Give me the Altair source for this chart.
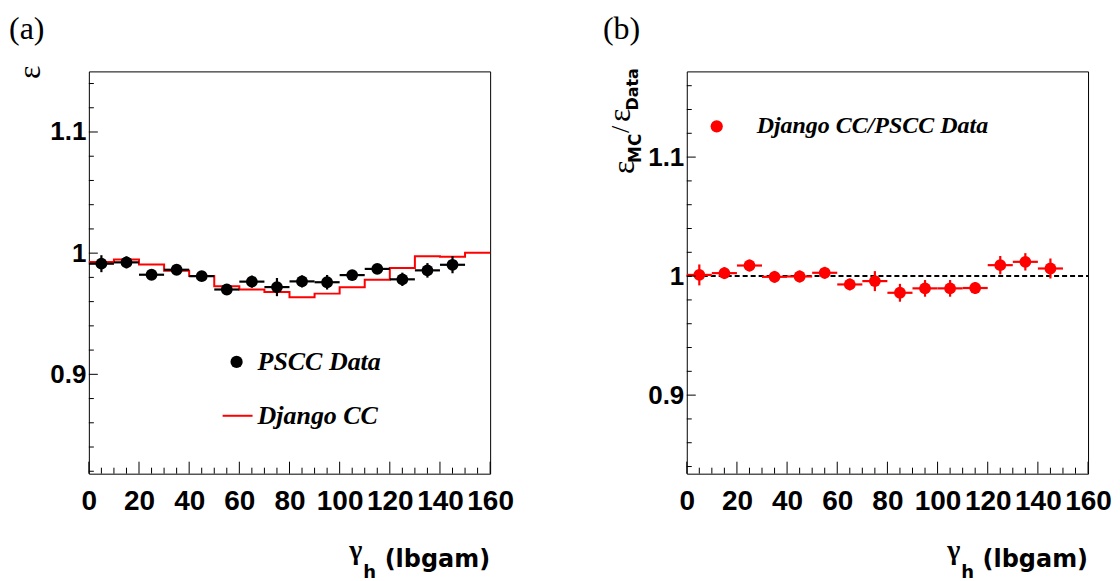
import altair as alt
import pandas as pd

# ---------------- data ----------------
bin_centers = [5, 15, 25, 35, 45, 55, 65, 75, 85, 95, 105, 115, 125, 135, 145]
pscc_data = [0.9913, 0.9924, 0.9822, 0.9863, 0.9810, 0.9700, 0.9765, 0.9720,
             0.9767, 0.9760, 0.9819, 0.9870, 0.9784, 0.9858, 0.9904]
pscc_err = [0.007, 0.005, 0.004, 0.004, 0.004, 0.004, 0.005, 0.0075,
            0.005, 0.006, 0.004, 0.004, 0.0055, 0.006, 0.007]

django_edges = [0, 10, 20, 30, 40, 50, 60, 70, 80, 90, 100, 110, 120, 130, 140, 150, 160]
django_cc = [0.9926, 0.9948, 0.9907, 0.9855, 0.9811, 0.9726, 0.9700, 0.9680,
             0.9636, 0.9666, 0.9718, 0.9781, 0.9877, 0.9975, 0.9970, 1.0003]

ratio = [1.0010, 1.0025, 1.0089, 0.9994, 0.9997, 1.0028, 0.9930, 0.9958,
         0.9860, 0.9897, 0.9897, 0.9900, 1.0092, 1.0120, 1.0064]
ratio_err = [0.0088, 0.005, 0.005, 0.005, 0.005, 0.005, 0.005, 0.0084,
             0.0075, 0.007, 0.007, 0.005, 0.0077, 0.0073, 0.0084]

bin_half_width = 5

x_major = [0, 20, 40, 60, 80, 100, 120, 140, 160]
x_minor = [5, 10, 15, 25, 30, 35, 45, 50, 55, 65, 70, 75, 85, 90, 95,
           105, 110, 115, 125, 130, 135, 145, 150, 155]
y_major = [0.9, 1.0, 1.1]
y_minor_left = [0.82, 0.84, 0.86, 0.88, 0.92, 0.94, 0.96, 0.98,
                1.02, 1.04, 1.06, 1.08, 1.12, 1.14]
y_minor_right = [0.84, 0.86, 0.88, 0.92, 0.94, 0.96, 0.98,
                 1.02, 1.04, 1.06, 1.08, 1.12, 1.14, 1.16]

x_domain = [0, 160]
y_domain_left = [0.818, 1.15]
y_domain_right = [0.834, 1.172]

W, H = 402, 403
RED = "#ff0000"
SANS = "Liberation Sans"
WIDE = "DejaVu Sans"
SERIF = "Liberation Serif"

# ---------------- helpers ----------------
xs = alt.Scale(domain=x_domain, nice=False, zero=False)
x_axis = alt.Axis(values=x_major, format="d", title=None, labelFlush=False,
                  labelOverlap=False, labelFontSize=28, labelPadding=14)


def X(field):
    return alt.X(field, type="quantitative", scale=xs, axis=x_axis)


def make_y(domain):
    ys = alt.Scale(domain=domain, nice=False, zero=False)
    ax = alt.Axis(values=y_major, title=None, labelFontSize=26, labelPadding=3,
                  labelExpr="abs(datum.value-1)<1e-6 ? '1' : format(datum.value, '.1f')")

    def Y(field):
        return alt.Y(field, type="quantitative", scale=ys, axis=ax)
    return Y


def text(txt, x, y, size, font=SANS, weight="normal", style="normal",
         align="left", baseline="middle", angle=0, color="black"):
    kw = dict(fontSize=size, font=font, fontWeight=weight, fontStyle=style,
              align=align, baseline=baseline, color=color)
    if angle:
        kw["angle"] = angle
    return alt.Chart(pd.DataFrame({"t": [txt]})).mark_text(**kw).encode(
        x=alt.value(x), y=alt.value(y), text="t:N")


def ticks():
    xmaj = alt.Chart(pd.DataFrame({"v": x_major})).mark_rule(color="black", strokeWidth=1).encode(
        x=X("v"), y=alt.value(H), y2=alt.value(H - 12))
    xmin = alt.Chart(pd.DataFrame({"v": x_minor})).mark_rule(color="black", strokeWidth=1).encode(
        x=X("v"), y=alt.value(H), y2=alt.value(H - 6))
    return xmaj, xmin


def yticks(Y, minors):
    ymaj = alt.Chart(pd.DataFrame({"v": y_major})).mark_rule(color="black", strokeWidth=1).encode(
        y=Y("v"), x=alt.value(0), x2=alt.value(9))
    ymin = alt.Chart(pd.DataFrame({"v": minors})).mark_rule(color="black", strokeWidth=1).encode(
        y=Y("v"), x=alt.value(0), x2=alt.value(5))
    return ymaj, ymin


def xtitle():
    return [
        text("γ", 274, 488, 28, font=SERIF, weight="bold", align="right", baseline="alphabetic"),
        text("h", 275, 508, 18, font=WIDE, weight="bold", align="left", baseline="alphabetic"),
        text("(lbgam)", W, 496, 24, font=WIDE, weight="bold", align="right", baseline="alphabetic"),
    ]


# ---------------- left panel ----------------
YL = make_y(y_domain_left)
df_pts = pd.DataFrame({"x": bin_centers, "y": pscc_data, "e": pscc_err})
df_pts["lo"] = df_pts["y"] - df_pts["e"]
df_pts["hi"] = df_pts["y"] + df_pts["e"]
df_pts["xl"] = df_pts["x"] - bin_half_width
df_pts["xh"] = df_pts["x"] + bin_half_width

df_hist = pd.DataFrame({"x": django_edges, "y": django_cc + [django_cc[-1]]})

hist = alt.Chart(df_hist).mark_line(interpolate="step-after", color=RED, strokeWidth=2).encode(
    x=X("x"), y=YL("y"))
herr = alt.Chart(df_pts).mark_rule(color="black", strokeWidth=2.2).encode(
    x=X("xl"), x2="xh", y=YL("y"))
verr = alt.Chart(df_pts).mark_rule(color="black", strokeWidth=2.2).encode(
    x=X("x"), y=YL("lo"), y2="hi")
pts = alt.Chart(df_pts).mark_circle(color="black", opacity=1, size=140).encode(
    x=X("x"), y=YL("y"))

xmaj_l, xmin_l = ticks()
ymaj_l, ymin_l = yticks(YL, y_minor_left)

anchor_l = alt.Chart(pd.DataFrame({"a": [0]})).mark_point(opacity=0, size=1).encode(
    x=alt.value(-80), y=alt.value(-62))

leg_l_pt = alt.Chart(pd.DataFrame({"a": [0]})).mark_circle(color="black", opacity=1, size=150).encode(
    x=alt.value(148), y=alt.value(291))
leg_l_line = alt.Chart(pd.DataFrame({"a": [0]})).mark_rule(color=RED, strokeWidth=2).encode(
    x=alt.value(134), x2=alt.value(164), y=alt.value(345))

left = alt.layer(
    hist, herr, verr, pts, xmaj_l, xmin_l, ymaj_l, ymin_l, anchor_l,
    leg_l_pt, leg_l_line,
    text("PSCC Data", 169, 291, 26, font=SERIF, weight="bold", style="italic"),
    text("Django CC", 169, 345, 26, font=SERIF, weight="bold", style="italic"),
    text("(a)", -80, -42, 32, font=SERIF),
    text("ε", -59, 1, 32, font=SERIF, angle=270, align="center"),
    *xtitle(),
).properties(width=W, height=H)

# ---------------- right panel ----------------
YR = make_y(y_domain_right)
df_r = pd.DataFrame({"x": bin_centers, "y": ratio, "e": ratio_err})
df_r["lo"] = df_r["y"] - df_r["e"]
df_r["hi"] = df_r["y"] + df_r["e"]
df_r["xl"] = df_r["x"] - bin_half_width
df_r["xh"] = df_r["x"] + bin_half_width

ref_line = alt.Chart(pd.DataFrame({"x": [x_domain[0]], "x2": [x_domain[1]], "y": [1.0]})).mark_rule(
    color="black", strokeWidth=2, strokeDash=[5, 3]).encode(x=X("x"), x2="x2", y=YR("y"))
herr_r = alt.Chart(df_r).mark_rule(color=RED, strokeWidth=2.2).encode(
    x=X("xl"), x2="xh", y=YR("y"))
verr_r = alt.Chart(df_r).mark_rule(color=RED, strokeWidth=2.2).encode(
    x=X("x"), y=YR("lo"), y2="hi")
pts_r = alt.Chart(df_r).mark_circle(color=RED, opacity=1, size=140).encode(
    x=X("x"), y=YR("y"))

xmaj_r, xmin_r = ticks()
ymaj_r, ymin_r = yticks(YR, y_minor_right)

leg_r_pt = alt.Chart(pd.DataFrame({"a": [0]})).mark_circle(color=RED, opacity=1, size=150).encode(
    x=alt.value(30), y=alt.value(55))

right = alt.layer(
    ref_line, herr_r, verr_r, pts_r, xmaj_r, xmin_r, ymaj_r, ymin_r,
    leg_r_pt,
    text("Django CC/PSCC Data", 70, 55, 24, font=SERIF, weight="bold", style="italic"),
    text("(b)", -84, -42, 32, font=SERIF),
    text("ε", -63, 96, 32, font=SERIF, angle=270, align="center"),
    text("MC", -51, 77, 17, font=WIDE, weight="bold", angle=270, align="center"),
    text("/", -66, 58, 26, font=SERIF, angle=270, align="center"),
    text("ε", -67, 44, 32, font=SERIF, angle=270, align="center"),
    text("Data", -54, 18, 16, font=WIDE, weight="bold", angle=270, align="center"),
    *xtitle(),
).properties(width=W, height=H)

chart = alt.hconcat(left, right, spacing=197, bounds="flush").properties(
    padding=0
).configure_view(
    stroke="black", strokeWidth=1
).configure_axis(
    domain=False, ticks=False, grid=False, labelFont=SANS, labelFontWeight="bold",
    labelColor="black"
)

chart.save("out.html", embed_options={"renderer": "svg", "actions": False})
